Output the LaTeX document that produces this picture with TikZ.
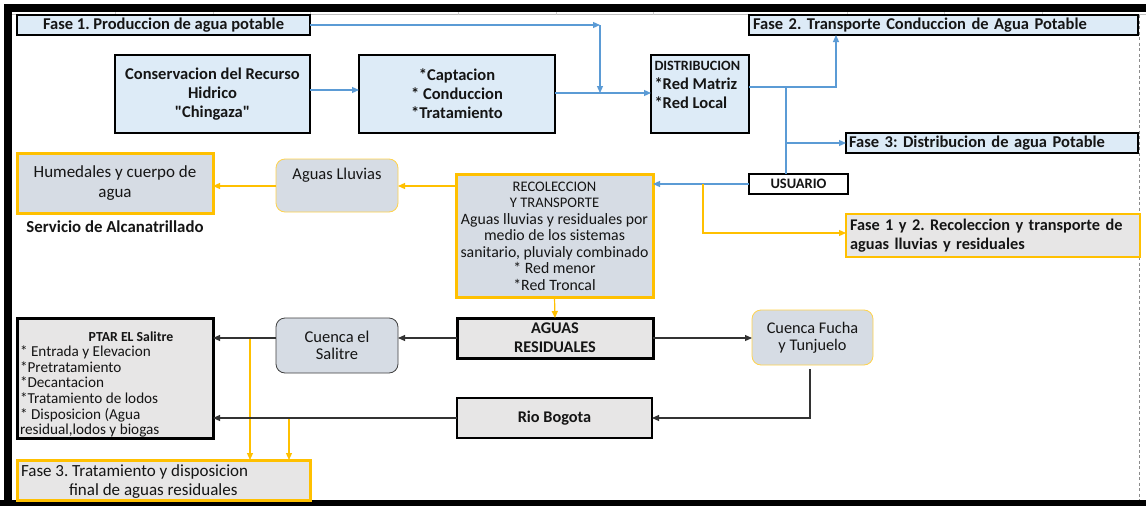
\documentclass[tikz,border=0pt]{standalone}
\usepackage{fontspec}
\setmainfont{Carlito}[Ligatures=TeXOff]
\usetikzlibrary{arrows.meta}
\definecolor{lblue}{HTML}{DDEBF7}
\definecolor{cblue}{HTML}{5B9BD5}
\definecolor{corange}{HTML}{FFC000}
\definecolor{sgray}{HTML}{D6DCE4}
\definecolor{lgray}{HTML}{E7E6E6}
\definecolor{ink}{HTML}{151515}
\newcommand\myfs[2]{\fontsize{#1}{#2}\selectfont}

\begin{document}
\frenchspacing
\begin{tikzpicture}[x=1pt,y=-1pt,
  base/.style={inner sep=0pt, outer sep=0pt, text=ink},
  bluebox/.style={base, draw=black, fill=lblue, line width=2pt, font=\bfseries\myfs{16.5}{19}},
  graybox/.style={base, draw=black, fill=lgray, line width=2pt, font=\bfseries\myfs{16.3}{19}},
  orangebox/.style={base, draw=corange, fill=sgray, line width=3pt},
  roundbox/.style={base, rounded corners=9pt, fill=sgray, line width=0.8pt},
  txt/.style={base, text=ink},
  tip/.style={-{Triangle[length=7pt,width=6pt]}},
  bline/.style={draw=cblue, line width=1.2pt},
  yline/.style={draw=corange, line width=1.2pt},
  kline/.style={draw=black!80, line width=1.1pt},
]
% page and frame
\useasboundingbox (0,0) rectangle (1146,506);
\fill[white] (0,0) rectangle (1146,506);
\draw[black!25, line width=0.8pt] (12,14.5) -- (1146,14.5);
\foreach \gx in {115,213,310,458,556,653,847,944,1042}
  \draw[black!20, line width=0.8pt] (\gx,12) -- (\gx,15);
\draw[black!45, line width=1pt, dash pattern=on 3pt off 2.5pt] (1139.5,15) -- (1139.5,500);
\fill[black] (4,4) rectangle (1146,12);
\fill[black] (4,4) rectangle (12,506);
\fill[black] (0,500) rectangle (1146,506);

% water supply chain
\node[bluebox, minimum width=293pt, minimum height=20pt] (f1) at (163.5,25) {Fase 1. Produccion de agua potable};
\node[bluebox, minimum width=389pt, minimum height=20pt, text width=381pt, align=left] (f2) at (943.5,25) {Fase 2. Transporte Conduccion de Agua Potable};
\node[bluebox, minimum width=195pt, minimum height=78pt, align=center] (cons) at (212.5,94) {Conservacion del Recurso\\Hidrico\\"Chingaza"};
\node[bluebox, minimum width=196pt, minimum height=78pt, align=center] (cap) at (457,94) {*Captacion\\* Conduccion\\*Tratamiento};
\node[bluebox, minimum width=98pt, minimum height=78pt] (dist) at (700,94) {};
\node[txt, anchor=north west, align=left, font=\bfseries\myfs{16.5}{19}] (disttxt) at (654.5,61) {{\myfs{14.2}{19}DISTRIBUCION}\\*Red Matriz\\*Red Local};
\node[bluebox, minimum width=292pt, minimum height=20pt, text width=286pt, align=left] (f3) at (992,143) {Fase 3: Distribucion de agua Potable};
\node[base, draw=black, fill=white, line width=2pt, minimum width=99pt, minimum height=20pt, font=\bfseries\myfs{14.5}{16}] (usr) at (798.5,184) {USUARIO};

% sewer collection
\node[orangebox, minimum width=196pt, minimum height=60pt, align=center, font=\myfs{17}{19.5}] (hum) at (115,183) {Humedales y cuerpo de\\agua};
\node[txt, font=\bfseries\myfs{16.8}{18}] (serv) at (115,227) {Servicio de Alcanatrillado};
\node[roundbox, draw=corange!70, minimum width=122pt, minimum height=53pt] (ll) at (337,185.5) {};
\node[txt, font=\myfs{16.5}{18}] (lltxt) at (337,175.5) {Aguas Lluvias};
\node[orangebox, minimum width=197pt, minimum height=123pt, align=center, font=\myfs{15.8}{16.5}] (rec) at (554.5,236)
  {{\myfs{14.6}{16.5}RECOLECCION}\\{\myfs{14.6}{16.5}Y TRANSPORTE}\\Aguas lluvias y residuales por\\medio de los sistemas\\sanitario, pluvialy combinado\\* Red menor\\*Red Troncal};
\node[base, draw=corange, fill=lgray, line width=2.5pt, minimum width=294pt, minimum height=43pt, text width=286pt, align=left, font=\bfseries\myfs{16.3}{19}] (f12) at (993,235.5)
  {Fase 1 y 2. Recoleccion y transporte de\\aguas lluvias y residuales};

% treatment
\node[graybox, line width=3pt, minimum width=196pt, minimum height=40pt, align=center] (ar) at (555,338) {AGUAS\\RESIDUALES};
\node[roundbox, draw=black!75, minimum width=122pt, minimum height=55pt, align=center, font=\myfs{16.5}{17}] (cs) at (337,345.5) {Cuenca el\\Salitre};
\node[roundbox, draw=corange!70, minimum width=121pt, minimum height=55pt, align=center, font=\myfs{16.3}{17}] (cf) at (812.5,337.5) {Cuenca Fucha\\y Tunjuelo};
\node[graybox, line width=3pt, minimum width=196pt, minimum height=120pt] (ptar) at (115,378) {};
\node[txt, font=\bfseries\myfs{13.8}{15}] (ptart) at (131,337) {PTAR EL Salitre};
\node[txt, anchor=north west, align=left, font=\myfs{15.2}{15.6}] (ptarl) at (20,346)
  {* Entrada y Elevacion\\*Pretratamiento\\*Decantacion\\*Tratamiento de lodos\\* Disposicion (Agua\\residual,lodos y biogas};
\node[graybox, minimum width=195pt, minimum height=40pt] (rb) at (554.5,418) {Rio Bogota};
\node[base, draw=corange, fill=lgray, line width=3pt, minimum width=293pt, minimum height=40pt] (f3b) at (163.5,480) {};
\node[txt, anchor=north west, align=left, font=\myfs{17}{19}] (f3btxt) at (21,465)
  {Fase 3. Tratamiento y disposicion\\\hspace*{48pt}final de aguas residuales};

% junction points
\coordinate (j1) at (600,25);
\coordinate (j2) at (600,93);
\coordinate (d2) at (836,87);
\coordinate (ju) at (786,87);
\coordinate (jy) at (703,184);
\coordinate (kf0) at (810,369);
\coordinate (kf) at (810,418);
\coordinate (y1) at (250,338);
\coordinate (y2) at (289,419);

% blue connectors
\draw[bline, tip] (f1.east) -- (j1);
\draw[bline, tip] (j1) -- (j2);
\draw[bline, tip] (cons.east |- 0,90) -- (cap.west |- 0,90);
\draw[bline, tip] (cap.east |- j2) -- (dist.west |- j2);
\draw[bline, tip] (dist.east |- d2) -- (d2) -- (d2 |- f2.south);
\draw[bline] (ju) -- (ju |- usr.north);
\draw[bline, tip] (ju |- f3.west) -- (f3.west);
\draw[bline, tip] (usr.west) -- (rec.east |- usr.west);

% yellow connectors
\draw[yline, tip] (jy) -- (jy |- 0,233) -- (f12.west |- 0,233);
\draw[yline, tip] (rec.west |- 0,186) -- (ll.east |- 0,186);
\draw[yline, tip] (ll.west |- 0,186) -- (hum.east |- 0,186);
\draw[yline, tip] (rec.south) -- (ar.north);
\draw[yline, tip] (y1) -- (y1 |- f3b.north);
\draw[yline, tip] (y2) -- (y2 |- f3b.north);

% black connectors
\draw[kline, tip] (ar.west) -- (cs.east |- ar.west);
\draw[kline, tip] (cs.west |- ar.west) -- (ptar.east |- ar.west);
\draw[kline, tip] (ar.east) -- (cf.west |- ar.east);
\draw[kline, tip] (kf0) -- (kf) -- (rb.east |- kf);
\draw[kline, tip] (rb.west) -- (ptar.east |- rb.west);
\end{tikzpicture}
\end{document}
